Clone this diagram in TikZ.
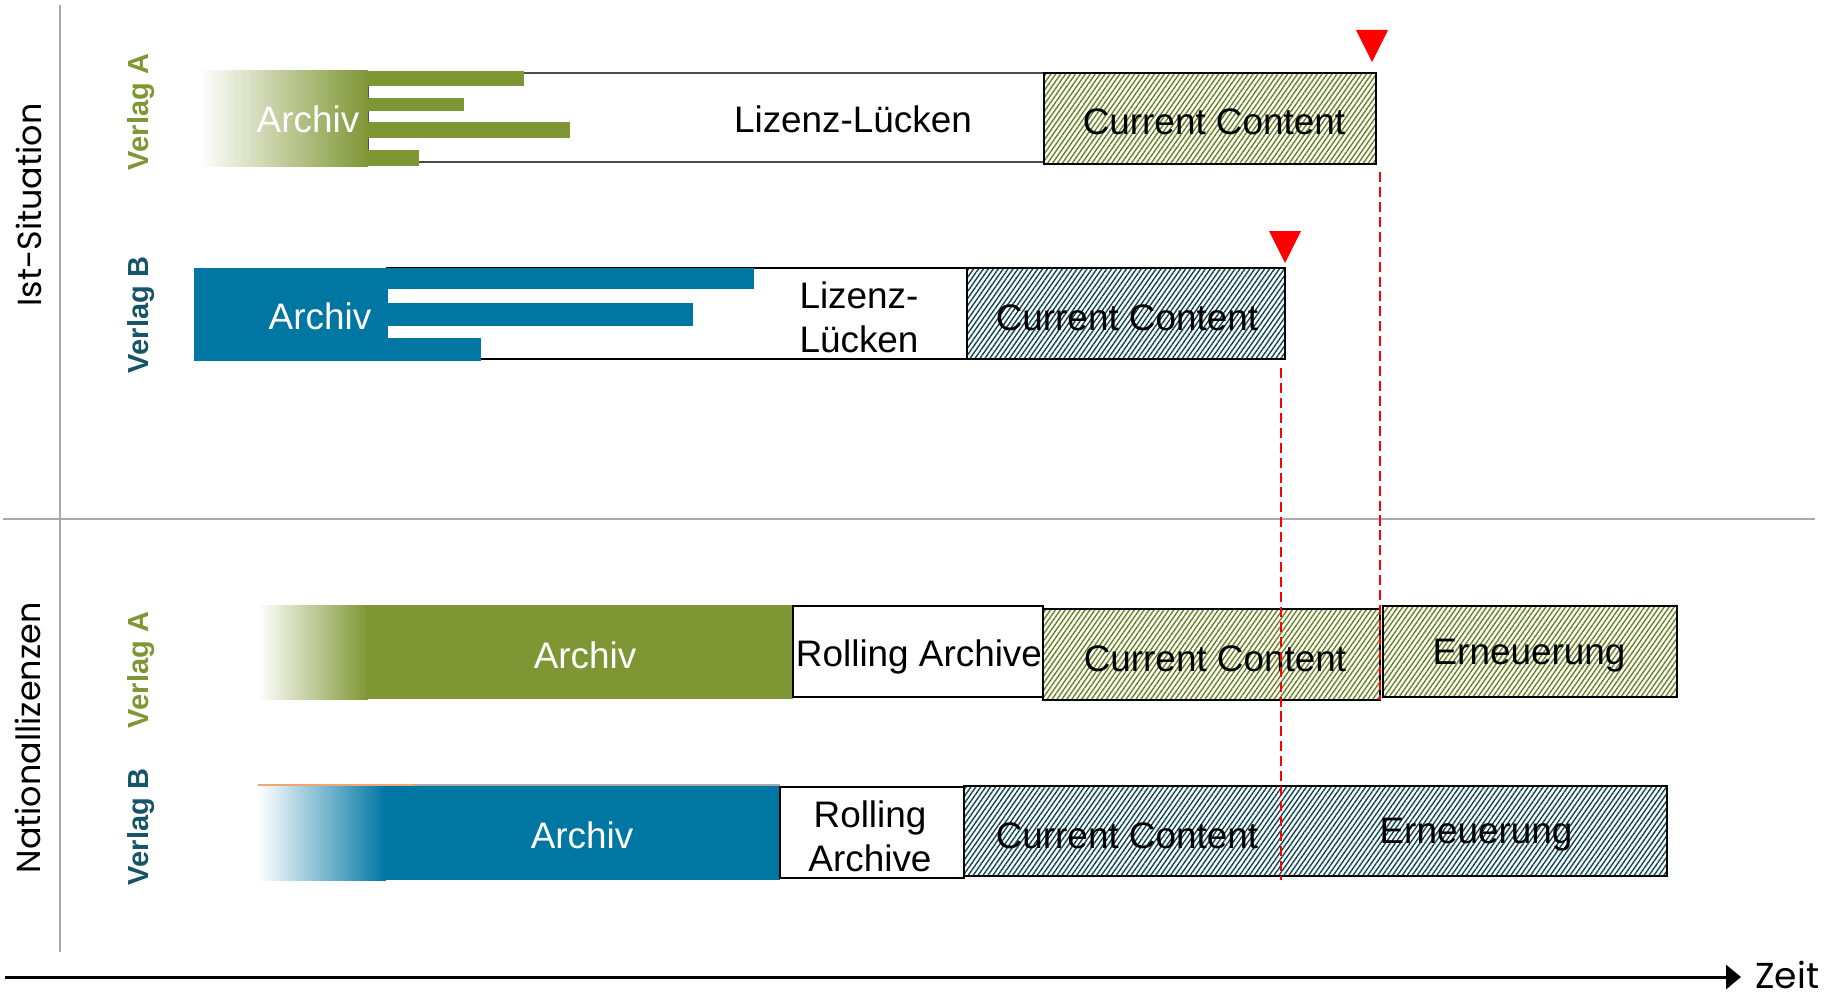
\documentclass[tikz,border=0pt]{standalone}
\usepackage{fontspec}
\setmainfont{Liberation Sans}
\newfontfamily\geofont{Poppins}
\usetikzlibrary{patterns.meta,arrows.meta}
\definecolor{grA}{RGB}{127,150,52}
\definecolor{blB}{RGB}{0,118,163}
\definecolor{lblB}{RGB}{22,84,104}
\definecolor{hatchA}{RGB}{104,130,34}
\definecolor{hatchB}{RGB}{14,70,86}
\definecolor{divgray}{RGB}{170,170,170}
\definecolor{orangeline}{RGB}{244,164,112}
\begin{document}
\begin{tikzpicture}[x=0.02cm,y=-0.02cm,
  txt/.style={font=\fontsize{21}{25}\selectfont, inner sep=0pt, align=center},
  wtxt/.style={txt, text=white},
  boxline/.style={draw=black, line width=0.8pt},
  ccA/.style={boxline, pattern={Lines[angle=55,distance=2.3pt,line width=0.8pt]}, pattern color=hatchA},
  ccB/.style={boxline, pattern={Lines[angle=55,distance=2.3pt,line width=0.8pt]}, pattern color=hatchB},
  vlabA/.style={rotate=90, font=\fontsize{16.5}{20}\selectfont\bfseries, text=grA, inner sep=0pt},
  vlabB/.style={rotate=90, font=\fontsize{16.5}{20}\selectfont\bfseries, text=lblB, inner sep=0pt},
  sidelab/.style={rotate=90, font=\geofont\fontsize{19}{23}\selectfont, inner sep=0pt},
  divider/.style={draw=divgray, line width=1.3pt},
  reddash/.style={draw=red, line width=1.1pt, dash pattern=on 5.7pt off 2.8pt},
  marker/.style={fill=red},
]
\useasboundingbox (0,0) rectangle (1842,997);

% dividers
\coordinate (vtop) at (60,5);
\coordinate (vbot) at (60,952);
\coordinate (hl) at (3,519);
\coordinate (hr) at (1815,519);
\draw[divider] (vtop) -- (vbot);
\draw[divider] (hl) -- (hr);

% side labels
\node[sidelab] (ist) at (29,205) {Ist-Situation};
\node[sidelab] (nat) at (28,738) {Nationallizenzen};
\node[vlabA] (vA1) at (141,112) {Verlag A};
\node[vlabB] (vB1) at (141,315) {Verlag B};
\node[vlabA] (vA2) at (141,670) {Verlag A};
\node[vlabB] (vB2) at (141,827) {Verlag B};

% ---- Ist-Situation, Verlag A
\draw[boxline, draw=black!70, line width=1pt, fill=white] (368,73) rectangle (1044,162);
\shade[left color=white, right color=grA] (200,71) rectangle (368,166);
\fill[grA] (367,71) rectangle (524,86);
\fill[grA] (367,98) rectangle (464,111);
\fill[grA] (367,122) rectangle (570,138);
\fill[grA] (367,150) rectangle (419,166);
\draw[ccA] (1044,73) rectangle (1376,164);
\node[wtxt] (archA1) at (308,119) {Archiv};
\node[txt] (lueA1) at (853,119) {Lizenz-Lücken};
\node[txt] (ccA1) at (1214,122) {Current Content};

% ---- Ist-Situation, Verlag B
\draw[boxline, fill=white] (387,268) rectangle (967,359);
\fill[blB] (194,268) rectangle (388,361);
\fill[blB] (387,268) rectangle (754,289);
\fill[blB] (387,303) rectangle (693,326);
\fill[blB] (387,338) rectangle (481,361);
\draw[ccB] (967,268) rectangle (1285,359);
\node[wtxt] (archB1) at (320,316) {Archiv};
\node[txt] (lueB1) at (859,317) {Lizenz-\\Lücken};
\node[txt] (ccB1) at (1127,318) {Current Content};

% markers
\fill[marker] (1356,30) -- (1388,30) -- (1372,62) -- cycle;
\fill[marker] (1269,231) -- (1301,231) -- (1285,263) -- cycle;

% ---- Nationallizenzen, Verlag A
\shade[left color=white, right color=grA] (258,605) rectangle (368,699);
\fill[grA] (367,605) rectangle (793,699);
\draw[boxline, fill=white] (793,606) rectangle (1043,697);
\draw[ccA] (1043,609) rectangle (1380,700);
\draw[ccA] (1383,606) rectangle (1677,697);
\node[wtxt] (archA2) at (585,655) {Archiv};
\node[txt] (rollA) at (919,657) {Rolling Archive};
\node[txt] (ccA2) at (1215,659) {Current Content};
\node[txt] (ernA) at (1529,656) {Erneuerung};

% ---- Nationallizenzen, Verlag B
\draw[orangeline, line width=0.6pt] (258,785) -- (414,785);
\draw[divgray, line width=0.7pt] (414,785) -- (780,785);
\shade[left color=white, right color=blB] (258,786) rectangle (386,880);
\fill[blB] (385,786) rectangle (780,880);
\draw[boxline, fill=white] (780,787) rectangle (964,878);
\draw[ccB] (964,786) rectangle (1667,876);
\node[wtxt] (archB2) at (582,835) {Archiv};
\node[txt] (rollB) at (870,836) {Rolling\\Archive};
\node[txt] (ccB2) at (1127,836) {Current Content};
\node[txt] (ernB) at (1476,835) {Erneuerung};

% red dashed guides
\coordinate (dAtop) at (1380,172);
\coordinate (dAbot) at (1380,700);
\coordinate (dBtop) at (1281,368);
\coordinate (dBbot) at (1281,880);
\draw[reddash] (dAtop) -- (dAbot);
\draw[reddash] (dBtop) -- (dBbot);

% time axis
\coordinate (ax0) at (5,977);
\coordinate (ax1) at (1741,977);
\draw[line width=1.7pt, -{Triangle[length=8.5pt,width=13.6pt]}] (ax0) -- (ax1);
\node[font=\geofont\fontsize{20.5}{24}\selectfont, inner sep=0pt, anchor=base west] (zeit) at (1755,988) {Zeit};
\end{tikzpicture}
\end{document}
